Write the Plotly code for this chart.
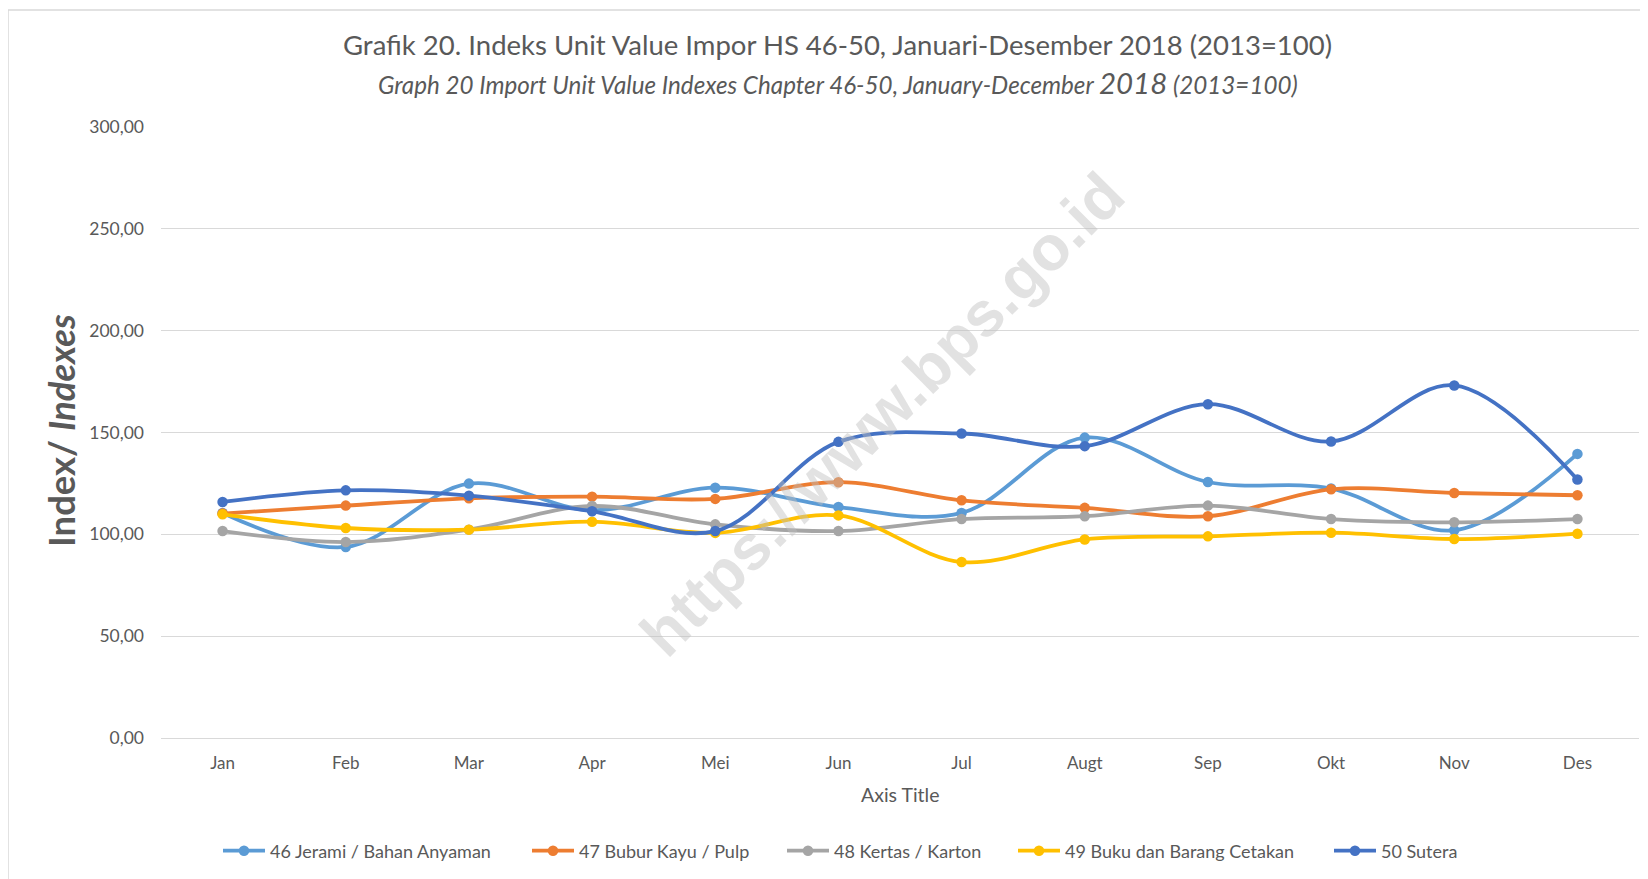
import plotly.graph_objects as go

months = ["Jan", "Feb", "Mar", "Apr", "Mei", "Jun", "Jul", "Augt", "Sep", "Okt", "Nov", "Des"]
s46 = [110.5, 93.8, 124.9, 111.8, 122.9, 113.4, 110.5, 147.5, 125.7, 122.5, 102.0, 139.5]
s47 = [110.2, 114.1, 117.7, 118.5, 117.4, 125.6, 116.7, 113.0, 108.9, 122.1, 120.3, 119.2]
s48 = [101.6, 96.2, 102.3, 113.9, 104.9, 101.6, 107.5, 108.9, 114.1, 107.5, 105.9, 107.5]
s49 = [109.8, 103.1, 102.3, 106.2, 100.7, 109.3, 86.4, 97.5, 99.0, 100.8, 97.7, 100.3]
s50 = [115.9, 121.6, 119.0, 111.3, 101.6, 145.4, 149.5, 143.3, 163.9, 145.6, 173.1, 126.9]
names = ["46 Jerami / Bahan Anyaman", "47 Bubur Kayu / Pulp", "48 Kertas / Karton",
         "49 Buku dan Barang Cetakan", "50 Sutera"]
colors = ["#5B9BD5", "#ED7D31", "#A5A5A5", "#FFC000", "#4472C4"]
series = [s46, s47, s48, s49, s50]

FONT = "Lato"
GRAY = "#595959"

# page offset (browser body margin)
OFF = 8
W, H = 1648 - OFF, 879 - OFF
L, R, T, B = 161, 1639, 127, 738  # page coordinates of plot area
pw, ph = R - L, B - T


def px(x):
    return (x - L) / pw


def py(y):
    return (B - y) / ph


legend_ids = ["legend", "legend2", "legend3", "legend4", "legend5"]
legend_x_page = [226, 535, 790, 1021, 1337]

fig = go.Figure()
for name, col, vals, lid in zip(names, colors, series, legend_ids):
    fig.add_trace(go.Scatter(
        x=months, y=vals, name=name, mode="lines+markers",
        line=dict(color=col, width=3.8, shape="spline", smoothing=1.0),
        marker=dict(color=col, size=10.5),
        legend=lid,
    ))

legend_layouts = {}
for lid, xp in zip(legend_ids, legend_x_page):
    legend_layouts[lid] = dict(
        orientation="h", x=px(xp - 8), y=py(851), xanchor="left", yanchor="middle",
        font=dict(size=18, color=GRAY, family=FONT), itemwidth=42,
        bgcolor="rgba(0,0,0,0)")

fig.update_layout(
    width=W, height=H,
    margin=dict(l=L - OFF, r=1648 - R, t=T - OFF, b=879 - B),
    paper_bgcolor="white", plot_bgcolor="white",
    separators=",.",
    font=dict(family=FONT, color=GRAY),
    showlegend=True,
    xaxis=dict(type="category", range=[-0.5, 11.5], showgrid=False,
               showline=True, linecolor="#d9d9d9", linewidth=1, ticks="",
               tickfont=dict(size=17, color=GRAY, family=FONT), ticklabelstandoff=10,
               zeroline=False),
    yaxis=dict(range=[0, 300], dtick=50, tickformat=".2f", showgrid=True,
               gridcolor="#d9d9d9", gridwidth=1, zeroline=False, showline=False,
               tickfont=dict(size=17.5, color=GRAY, family=FONT), ticklabelstandoff=16),
    shapes=[dict(type="rect", xref="paper", yref="paper",
                 x0=px(8), x1=px(1700), y0=py(920), y1=py(10),
                 line=dict(color="#d9d9d9", width=1.5), fillcolor="rgba(0,0,0,0)",
                 layer="below")],
    annotations=[
        dict(text="Grafik 20. Indeks Unit Value Impor HS 46-50, Januari-Desember 2018 (2013=100)",
             xref="paper", yref="paper", x=px(837), y=py(45), xanchor="center", yanchor="middle",
             showarrow=False, font=dict(size=27.5, color=GRAY, family=FONT)),
        dict(text="<i>Graph 20 Import Unit Value Indexes Chapter 46-50, January-December </i>"
                  "<span style='font-size:29.5px'><i>2018</i></span><i> (2013=100)</i>",
             xref="paper", yref="paper", x=px(838), y=py(82), xanchor="center", yanchor="middle",
             showarrow=False, font=dict(size=24.2, color=GRAY, family=FONT)),
        dict(text="<b>Index/ <i>Indexes</i></b>", textangle=-90,
             xref="paper", yref="paper", x=px(61), y=py(431), xanchor="center", yanchor="middle",
             showarrow=False, font=dict(size=36.5, color=GRAY, family=FONT)),
        dict(text="Axis Title", xref="paper", yref="paper", x=px(900), y=py(794),
             xanchor="center", yanchor="middle", showarrow=False,
             font=dict(size=19.5, color=GRAY, family=FONT)),
        dict(text="<b>https://www.bps.go.id</b>", textangle=-45,
             xref="paper", yref="paper", x=px(882), y=py(414), xanchor="center", yanchor="middle",
             showarrow=False, font=dict(size=63, color="rgba(190,190,190,0.45)",
                                        family="Liberation Sans")),
    ],
    **legend_layouts,
)

fig.write_html("out.html")
